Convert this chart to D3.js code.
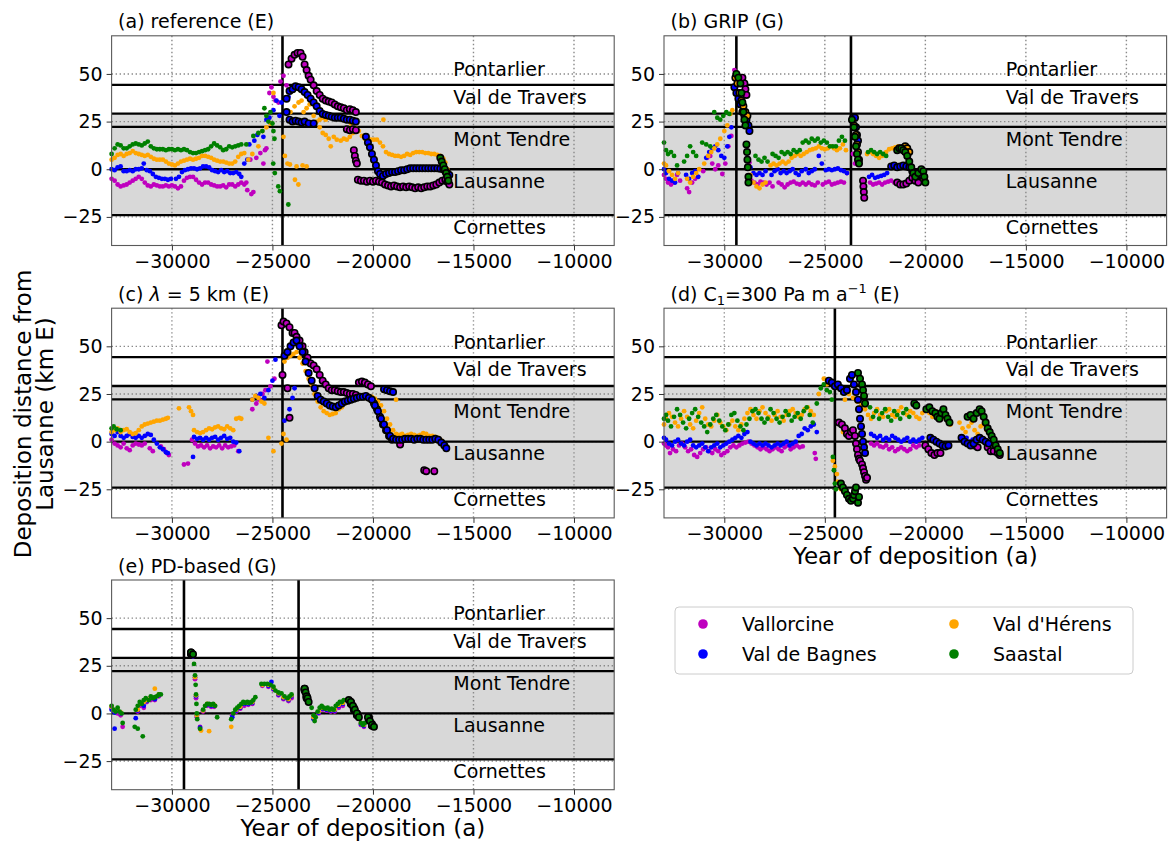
<!DOCTYPE html>
<html><head><meta charset="utf-8">
<script src="https://cdn.jsdelivr.net/npm/d3@7"></script>
<style>body{margin:0;background:#fff}svg{display:block}text{font-family:"DejaVu Sans",sans-serif;fill:#000}</style>
</head><body><svg id="chart" width="1171" height="841"></svg>
<script>
// ---------------- data ----------------
const seriesNames = ["Vallorcine","Val de Bagnes","Val d'Hérens","Saastal"];
const xTicks = [-30000,-25000,-20000,-15000,-10000];
const yTicks = [-25,0,25,50];
const xDomain = [-33000,-8000];
const yDomain = [-40,70];
const boundaryLines = [44.3,29.2,22.2,0,-24.1];
const bandRange = [-24.1,28.8];
const siteNames = ["Pontarlier","Val de Travers","Mont Tendre","Lausanne","Cornettes"];
const siteLabelY = [48.8,34.3,12.4,-9.8,-33.9];
const siteLabelX = -16000;
const panelTitles = ["(a) reference (E)","(b) GRIP (G)","(c) λ = 5 km (E)","(d) C1=300 Pa m a−1 (E)","(e) PD-based (G)"];
const panelEventYears = [[-24500],[-29400,-23700],[-24500],[-24500],[-29400,-23700]];
const xLabel = "Year of deposition (a)";
const yLabelLines = ["Deposition distance from","Lausanne (km E)"];

// (a) reference
const refVallorcine = [[-33000,-5],[-32850,-6],[-32700,-8],[-32550,-9],[-32400,-8.5],[-32250,-8],[-32100,-7],[-31950,-6],[-31800,-5],[-31650,-4],[-31500,-5],[-31350,-7],[-31200,-8.5],[-31050,-9],[-30900,-8],[-30750,-8.5],[-30600,-9],[-30450,-9],[-30300,-8.5],[-30150,-9],[-30000,-8.5],[-29850,-9],[-29700,-10],[-29550,-9],[-29400,-6],[-29250,-4.5],[-29100,-4],[-28950,-4],[-28800,-5.5],[-28650,-7],[-28500,-8],[-28350,-7],[-28200,-7],[-28050,-8],[-27900,-8.5],[-27750,-9],[-27600,-9],[-27450,-8.5],[-27300,-9.5],[-27150,-8],[-27000,-8],[-26850,-9],[-26700,-8],[-26550,-7],[-26400,-8],[-26250,-11],[-26050,-13],[-26300,-7],[-25950,-12],[-26100,5],[-25800,6],[-25600,8.5],[-25450,3],[-25370,10],[-25300,11],[-25150,40],[-25050,43],[-24950,38],[-24850,36],[-24700,35],[-24600,46],[-24450,49],[-24350,37],[-24300,44]];
const refVallorcineEdge = [[-24200,55],[-24050,58],[-23900,60],[-23750,61],[-23600,61],[-23500,59],[-23400,55],[-23300,52],[-23200,49],[-23100,47],[-22950,44],[-22800,41],[-22650,39],[-22500,37],[-22350,36],[-22200,35.5],[-22050,35],[-21900,34],[-21750,33],[-21600,32.5],[-21450,32],[-21300,31],[-21150,31.5],[-21000,31],[-20850,30],[-21300,21],[-21150,20.5],[-21000,21],[-20850,20.5],[-20950,10],[-20900,7],[-20850,4.5],[-20800,3],[-20750,-5.5],[-20600,-6],[-20450,-6],[-20300,-6.5],[-20150,-6],[-20000,-6.5],[-19850,-6],[-19700,-6.5],[-19550,-7],[-19400,-8],[-19250,-8.5],[-19100,-9],[-18950,-8.5],[-18800,-9],[-18650,-9.5],[-18500,-9],[-18350,-9.5],[-18200,-9],[-18050,-9.5],[-17900,-10],[-17750,-9.5],[-17600,-10],[-17450,-9.5],[-17300,-9],[-17150,-9],[-17000,-8.5],[-16850,-8],[-16700,-7],[-16550,-6],[-16400,-5.5],[-16300,-6.5],[-16200,-8]];
const refBagnes = [[-33000,0],[-32850,-0.5],[-32700,1],[-32550,1.5],[-32400,-1],[-32250,-1],[-32100,-0.5],[-31950,-1],[-31800,0],[-31650,0],[-31500,0.5],[-31400,3],[-31250,-0.5],[-31100,-1],[-30950,-2.5],[-30800,-4],[-30650,-4.5],[-30500,-5],[-30350,-5],[-30200,-5.5],[-30050,-5],[-29800,-5],[-29650,-4],[-29500,-1.5],[-29350,-0.5],[-29200,0],[-29050,0.5],[-28900,0.5],[-28750,0],[-28600,0.5],[-28450,1.5],[-28300,1.5],[-28150,1],[-28000,-0.5],[-27850,-1],[-27700,-1.5],[-27550,-0.5],[-27400,-1.5],[-27250,-1],[-27100,-2],[-26950,-2],[-26800,-1.5],[-26650,-2.5],[-26550,-4],[-26400,3],[-26250,5],[-26150,13],[-25900,15],[-25750,18],[-25450,17],[-25300,26],[-25150,27],[-24950,31],[-24800,36],[-24650,28],[-24550,35],[-24200,38]];
const refBagnesEdge = [[-24300,37],[-24150,41],[-24000,42],[-23850,43.5],[-23700,43],[-23550,42],[-23400,40.5],[-23250,39],[-23100,37],[-22950,35],[-22800,33],[-22650,30.5],[-22500,29],[-22350,28.5],[-22200,28],[-22050,27.5],[-21900,27],[-21750,27],[-21600,27],[-21450,26.5],[-21300,26],[-21150,26],[-21000,25.5],[-20850,25],[-24300,30],[-24150,26],[-24000,25],[-23850,25.5],[-23700,25],[-23550,24.5],[-23400,25],[-23200,24],[-22950,24],[-20350,17],[-20250,14],[-20150,11.5],[-20050,8],[-19950,5],[-19850,2],[-19750,-1],[-19650,-2.5],[-19500,-3.5],[-19350,-2.5],[-19200,-2],[-19050,-1.5],[-18900,-1.5],[-18750,-1],[-18600,-0.5],[-18450,-0.5],[-18300,0],[-18150,0.5],[-18000,0.5],[-17850,0.5],[-17700,0.5],[-17550,0.5],[-17400,0.5],[-17250,0.5],[-17100,0.5],[-16950,0.5],[-16800,0.5],[-16650,0.3],[-16500,0],[-16400,-1],[-16300,-2],[-16200,-3]];
const refHerens = [[-33000,5],[-32850,6],[-32700,7.5],[-32550,8],[-32400,7],[-32250,8],[-32100,8.5],[-31950,9.5],[-31800,8.5],[-31650,8],[-31500,7.5],[-31350,7],[-31200,7.5],[-31050,6.5],[-30900,5.5],[-30750,5],[-30600,5],[-30450,5],[-30300,4],[-30150,3],[-30000,2.5],[-29850,2],[-29700,3],[-29550,4],[-29400,4.5],[-29250,5],[-29100,5.5],[-28950,5],[-28800,5.5],[-28650,6],[-28500,7],[-28350,7],[-28200,6.5],[-28050,6],[-27900,5],[-27750,4.5],[-27600,4],[-27450,4],[-27300,3.5],[-27150,3],[-27000,3],[-26850,4],[-26700,6.5],[-26550,8],[-26400,8.5],[-26200,5],[-26000,8],[-25700,12],[-25500,20],[-25300,22],[-25100,24],[-24950,40],[-24450,17],[-24380,7],[-24250,3],[-24130,2.5],[-23880,-5.5],[-23710,-8],[-23800,1.5],[-23500,2],[-23300,1.5],[-24100,30],[-23900,33],[-23700,35],[-23550,36],[-23450,30],[-23300,32],[-23150,34],[-22950,28],[-22800,25],[-22650,26],[-22500,27],[-22350,26],[-22650,22],[-22500,19],[-22350,18],[-22200,16],[-22100,12],[-21950,17],[-21800,15.5],[-21600,15],[-21450,16],[-21300,15.5],[-21150,17],[-21000,19],[-21100,24],[-20950,26],[-20850,21.5],[-20700,20],[-20550,17.5],[-20400,16],[-20250,15.5],[-20100,15.5],[-19950,15.5],[-19800,15.5],[-19480,26],[-19650,14],[-19500,12],[-19350,9],[-19200,8],[-19050,7.5],[-18900,7],[-18750,7],[-18600,6.5],[-18450,7],[-18300,8],[-18150,7.5],[-18000,8.5],[-17850,9],[-17700,9],[-17550,9],[-17400,8.5],[-17250,8.5],[-17100,8],[-16950,8],[-16800,7.5],[-16650,7],[-16500,5.5],[-16400,3.5],[-16300,0],[-16250,-5]];
const refSaastal = [[-33000,8],[-32850,11],[-32700,13],[-32550,12.5],[-32400,11],[-32250,11],[-32100,12],[-31950,13],[-31800,13.5],[-31650,13],[-31500,12.5],[-31350,13.5],[-31200,14.5],[-31050,12],[-30900,11],[-30750,10.5],[-30600,10.5],[-30450,10.5],[-30300,10],[-30150,10.5],[-30000,10.5],[-29850,10],[-29700,10.5],[-29550,10],[-29400,10.5],[-29250,10],[-29100,9],[-28950,8.5],[-28800,8.5],[-28650,9],[-28500,9.5],[-28350,10],[-28200,10.5],[-28050,12],[-27900,13.5],[-27750,12.5],[-27600,11.5],[-27450,10],[-27300,10.5],[-27150,12],[-27000,11.5],[-26850,12],[-26700,12.5],[-26550,13],[-26300,13],[-25950,17.5],[-25700,19],[-25500,20],[-25400,32],[-25300,28],[-25200,25],[-25100,30],[-25000,24],[-24950,20],[-24900,16],[-24960,3],[-24880,-2],[-24710,-9],[-24630,-11.5],[-24210,-18.5]];
const refSaastalEdge = [[-16650,6],[-16580,4],[-16500,2],[-16430,0],[-16360,-2],[-16300,-4],[-16250,-6]];

// (b) GRIP
const gripVallorcine = [[-33000,-3],[-32900,-5],[-32800,-7],[-32650,-8],[-32500,-7],[-32350,-3],[-32200,-6],[-31850,-10],[-31750,-12],[-31600,-7],[-31450,-5],[-31300,-4],[-31050,-1],[-30850,6],[-30700,7],[-30600,3],[-30450,0],[-30300,2],[-30100,-2.5],[-29950,3],[-29800,12],[-29650,17.5],[-29500,52],[-28750,3.5],[-28650,-6],[-28500,-7],[-28350,-8],[-28200,-6.5],[-28050,-7],[-27900,-8],[-27750,-7],[-27600,-9],[-27300,-7],[-27150,-8],[-27000,-9.5],[-26850,-8],[-26700,-7],[-26550,-6.5],[-26400,-7.5],[-26250,-8],[-26100,-7],[-25950,-8],[-25800,-7],[-25650,-8],[-25500,-8.5],[-25350,-7],[-25100,-8],[-24950,-7],[-24800,-6.5],[-24650,-8],[-24500,-7.5],[-24350,-7],[-24200,-6.5],[-24050,-7],[-23900,-2],[-23600,8],[-23500,3],[-22750,-7],[-22600,-8],[-22450,-7.5],[-22300,-7],[-22150,-8],[-22000,-7],[-21850,-6.5],[-21700,-6],[-21550,-7]];
const gripVallorcineEdge = [[-29200,47],[-29100,48],[-29000,45],[-28950,42],[-28900,39],[-23100,-6],[-23080,-9],[-23060,-12],[-23040,-15],[-21400,-7],[-21250,-8],[-21100,-8],[-20950,-7.5],[-20800,-6],[-20650,-4.5],[-20500,-6],[-20350,-7]];
const gripBagnes = [[-33000,0],[-32900,-2],[-32750,-5],[-32600,-6],[-32450,-7],[-32300,-2],[-31900,-3],[-31750,-5],[-31600,-2],[-31450,-1],[-31300,-4],[-30900,6],[-30750,9],[-30600,11],[-30450,12],[-30300,10],[-30150,7],[-30000,6],[-29850,12],[-29750,17],[-29650,22],[-28850,6],[-28700,1],[-28550,-2],[-28400,-3],[-28250,-2],[-28100,-3],[-27950,-1],[-27650,-3],[-27500,-1],[-27350,0],[-27200,-2],[-27050,-1],[-26900,-2],[-26750,-1],[-26600,0],[-26450,-2],[-26300,-3],[-26150,-1],[-25950,0],[-25800,-2],[-25650,-1],[-25500,0],[-25300,7],[-25150,3],[-24950,-0.5],[-24800,0],[-24650,-0.5],[-24500,0],[-24350,0.5],[-24200,-0.5],[-24050,-1],[-23900,-2],[-22800,-4],[-22650,-3],[-22500,-4.5],[-22350,-4],[-22200,-3.5],[-22050,-3],[-21900,-2]];
const gripBagnesEdge = [[-29500,43],[-29400,40],[-29300,37],[-29200,34],[-29100,30],[-29000,28],[-28900,26],[-28800,23],[-28750,20],[-23600,27],[-23500,27],[-23450,22],[-23400,18],[-23350,15],[-21700,1.5],[-21550,2],[-21400,1],[-21250,1.5],[-21100,2],[-20950,1.5],[-20800,1],[-20650,-1],[-20500,-3],[-20350,-3.5],[-20200,-3]];
const gripHerens = [[-33000,3],[-32900,2],[-32750,-1],[-32600,-3],[-32450,-5],[-32300,-2],[-31850,-5],[-31700,-7],[-31550,-4],[-31400,-2],[-31250,0],[-31000,3],[-30800,7],[-30650,9],[-30500,11],[-30350,13],[-30200,16],[-30000,20],[-29850,23],[-29700,29],[-29600,31],[-28700,-3],[-28550,-7],[-28400,-9],[-28250,-10],[-28100,-8],[-27950,-7],[-27700,2],[-27550,3],[-27400,2],[-27250,3],[-27100,4],[-26950,3],[-26800,4],[-26650,6],[-26500,7],[-26350,8],[-26200,7],[-26050,8],[-25900,9],[-25750,10],[-25600,10.5],[-25450,11],[-25300,12],[-25150,11],[-25000,10.5],[-24850,11],[-24700,12],[-24550,11],[-24400,10],[-24250,11],[-24100,13],[-23950,10],[-22900,8],[-22750,9],[-22600,8],[-22450,7],[-22300,6],[-22150,7],[-21950,9],[-21800,10.5],[-21650,11],[-21500,11.5],[-21350,12],[-20400,-4],[-20250,-6],[-20100,-7],[-20000,-5]];
const gripHerensEdge = [[-29450,48],[-29350,45],[-29250,40],[-29150,36],[-29050,33],[-28950,30],[-28850,28],[-23550,23],[-23450,18],[-23400,13],[-23350,9],[-23300,5],[-21100,11],[-21000,12],[-20900,11],[-20800,9]];
const gripSaastal = [[-33000,14],[-32900,10],[-32800,8],[-32650,9],[-32500,7],[-32350,2],[-32000,4],[-31850,7],[-31700,12],[-31550,9],[-31400,7],[-31100,14],[-30900,13],[-30700,12],[-30500,30],[-30350,27],[-30200,26],[-30050,28],[-29900,30],[-29750,29],[-28450,7],[-28300,5],[-28150,4],[-28000,6],[-27850,4],[-27600,8],[-27450,7],[-27300,6],[-27150,9],[-27000,8],[-26850,9],[-26700,8],[-26550,10],[-26400,9],[-26250,10],[-26100,14],[-25950,15],[-25800,14],[-25650,16],[-25500,15],[-25350,16],[-25200,14],[-25050,15],[-24900,14],[-24750,12],[-24600,12],[-24450,12],[-24300,15],[-24150,17],[-24000,15],[-22850,9],[-22700,10],[-22550,9],[-22400,8],[-22250,9],[-22100,8],[-21950,7]];
const gripSaastalEdge = [[-29400,50],[-29300,48],[-29200,45],[-29150,40],[-29100,35],[-29050,30],[-29000,26],[-28950,23],[-28900,13],[-28870,9],[-28850,5],[-28830,1],[-28800,-4],[-28800,-7],[-23650,26],[-23550,22],[-23500,17],[-23450,12],[-23400,8],[-23350,5],[-23300,3],[-21400,10],[-21300,11],[-21200,11],[-21100,10],[-21000,9],[-20900,7],[-20800,4],[-20700,1],[-20600,-2],[-20500,-4],[-20350,-2],[-20200,0],[-20100,-1],[-20050,-4],[-20000,-7]];

// (c) lambda = 5 km
const lamVallorcine = [[-33000,1],[-32850,-1],[-32700,-2],[-32550,-3],[-32400,-1],[-32250,-3.5],[-32100,-4.5],[-31950,-2],[-31800,-1],[-31650,-1.5],[-31500,-2],[-31350,-1],[-31100,-3.5],[-30950,-5],[-30550,-2.5],[-30400,-4],[-30250,-6],[-30150,-7],[-29400,-12],[-29200,-11.5],[-29000,1],[-28850,-1],[-28700,-2.5],[-28550,-2],[-28400,-3],[-28250,-2],[-28100,-3.5],[-27950,-2.5],[-27800,-3],[-27650,-2],[-27500,-3.5],[-27350,-2],[-27200,-3],[-27050,-2.5],[-26900,-2],[-26700,-5],[-26000,17],[-25800,20],[-25650,22],[-25500,25],[-25350,27],[-25250,42],[-25100,29],[-24900,33]];
const lamVallorcineEdge = [[-24500,35],[-24250,28],[-24150,12.5],[-24550,61],[-24450,63],[-24300,62],[-24150,60],[-24000,57],[-23900,57],[-23800,55],[-23650,53],[-23500,50],[-23400,47],[-23250,44],[-23100,41],[-22950,40],[-22800,38],[-22650,35],[-22500,32],[-22350,30],[-22200,28],[-22050,27],[-21900,27],[-21750,26.5],[-21600,26],[-21450,26],[-21300,25.5],[-21150,25],[-21000,25],[-20850,24.5],[-20700,31],[-20550,31.5],[-20400,31],[-20250,30],[-20100,29],[-19950,20],[-19800,17],[-19650,13],[-19500,9],[-19350,6],[-19200,3],[-19050,1],[-18650,-1.5],[-17450,-15],[-17350,-15.5],[-16950,-15.5]];
const lamBagnes = [[-33000,4],[-32850,3],[-32700,5],[-32550,3],[-32400,2],[-32250,3],[-32100,4],[-31950,2.5],[-31800,2],[-31650,3],[-31500,2],[-31350,3],[-31200,4],[-31050,3.5],[-30900,1],[-30750,-1],[-30600,-3],[-30450,-4],[-30300,-5.5],[-30200,-6],[-28950,-8],[-28900,2.5],[-28750,1.5],[-28600,2],[-28450,1],[-28300,2],[-28150,1],[-28000,2],[-27850,2.5],[-27700,1],[-27550,2],[-27400,3],[-27250,1.5],[-27100,2],[-26950,0],[-26800,-0.5],[-26650,-5],[-26000,22],[-25800,24],[-25600,25],[-25400,23],[-25200,27],[-25000,32],[-24850,43],[-24400,11],[-24150,17],[-24000,23],[-23900,28]];
const lamBagnesEdge = [[-24400,45],[-24250,47],[-24100,50],[-23950,52],[-23800,53],[-23650,50],[-23500,47],[-23350,42],[-23200,36],[-23050,32],[-22900,28],[-22750,24],[-22600,22],[-22450,21],[-22300,20],[-22150,19],[-22000,18.5],[-21850,18],[-21700,19],[-21550,20],[-21400,21],[-21250,21.5],[-21100,22],[-20950,22.5],[-20800,23],[-20650,23.5],[-20500,23.5],[-20350,24],[-20200,23],[-20050,22],[-19450,27.5],[-19300,27],[-19150,26.5],[-19000,26],[-19900,19],[-19750,16],[-19600,12],[-19450,9],[-19300,6],[-19150,3],[-19000,1.5],[-18850,1],[-18700,1],[-18550,1],[-18400,1.5],[-18250,1.5],[-18100,1.5],[-17950,1],[-17800,1.5],[-17650,1.5],[-17500,1],[-17350,1],[-17200,1],[-17050,1],[-16900,1.5],[-16750,1],[-16600,-0.5],[-16450,-2],[-16350,-3.5]];
const lamHerens = [[-33000,5],[-32850,6],[-32700,7],[-32550,5],[-32400,6],[-32250,6.5],[-32100,5],[-31950,4],[-31800,4.5],[-31650,6],[-31500,8],[-31350,9],[-31200,9.5],[-31050,10],[-30900,10.5],[-30750,11],[-30600,11],[-30450,11.5],[-30300,12],[-30200,12.5],[-29650,17.5],[-29150,18],[-29050,16],[-28950,14],[-28900,6],[-28750,5],[-28600,4.5],[-28450,5],[-28300,6],[-28150,7],[-28000,6.5],[-27850,7.5],[-27700,8],[-27550,7],[-27400,6.5],[-27250,8],[-27100,7],[-26950,6],[-26800,12],[-26650,12.5],[-26550,12],[-26000,22],[-25850,24],[-25700,23],[-25550,21],[-25400,20],[-25200,2],[-24950,-5],[-24550,-1],[-24450,4],[-24300,1],[-24400,42],[-24250,44],[-24100,45],[-23950,46],[-23800,47],[-23650,44],[-23500,41],[-23350,37],[-23200,33],[-23050,30],[-22900,25],[-22750,21],[-22600,18],[-22450,16],[-22300,15],[-22150,14],[-22000,14.5],[-21850,15],[-21700,17],[-21550,18],[-21400,20],[-21250,21],[-21100,21.5],[-20950,22],[-20800,22.5],[-20650,23],[-20500,23.5],[-20350,23],[-20200,24],[-20050,23.5],[-19900,22.5],[-18850,22],[-19750,21],[-19600,19],[-19450,16],[-19300,12],[-19150,9],[-19000,6],[-18850,4],[-18700,3.5],[-18550,4],[-18400,3],[-18250,3.5],[-18100,4],[-17950,3.5],[-17800,3],[-17650,3.5],[-17500,4.5],[-17350,4],[-17200,3],[-17050,3],[-16900,2.5],[-16750,2],[-16600,0.5]];
const lamSaastal = [[-33000,7],[-32900,8],[-32750,6.5],[-32550,6]];

// (d) C1 = 300 Pa m a-1
const c1Vallorcine = [[-33000,-1],[-32900,-2],[-32800,-3],[-32700,-6],[-32550,-4],[-32400,-5],[-32250,-2],[-32100,-1],[-31950,-3],[-31800,-5],[-31650,-4],[-31500,-7],[-31350,-8],[-31200,-6],[-31050,-4],[-30900,-3],[-30750,-5],[-30600,-6],[-30450,-4],[-30300,-5],[-30150,-7],[-30000,-6],[-29850,-5],[-29700,-3],[-29550,-2],[-29400,-3],[-29250,-2],[-29100,-1],[-28950,-0.5],[-28800,0],[-28650,-1],[-28500,-2],[-28350,-3],[-28200,-4],[-28050,-3],[-27900,-4],[-27750,-5],[-27600,-4],[-27450,-3],[-27300,-4],[-27150,-5],[-27000,-3],[-26850,-2],[-26700,-4],[-26550,-3],[-26400,-2],[-26250,-3],[-26100,-2.5],[-25500,-6],[-25450,-9],[-22700,-1],[-22550,-2],[-22400,-1],[-22250,-2.5],[-22100,-3],[-21950,-2],[-21800,-4],[-21650,-3],[-21500,-5],[-21350,-4],[-21200,-3],[-21050,-4],[-20900,-5],[-20750,-4],[-20600,-2],[-20450,-3],[-20300,-2],[-17900,-1],[-17750,-2],[-17600,-2.5],[-17450,-3]];
const c1VallorcineEdge = [[-24300,10],[-24150,9],[-24000,7],[-23900,4],[-23800,3],[-23700,5],[-23600,6],[-23500,3],[-23450,-1],[-23400,-4],[-23350,-7],[-23300,-9],[-23250,-10],[-23150,-12],[-23100,-14],[-23050,-16],[-23000,-18],[-22950,-20],[-22900,-19],[-20000,-2],[-19850,-4],[-19700,-6],[-19550,-7],[-19400,-6],[-19250,-6],[-17700,-1],[-17550,-2],[-17400,-3],[-16900,-3],[-16750,-5],[-16600,-5],[-16400,-6],[-16300,-7]];
const c1Bagnes = [[-33000,2],[-32900,1],[-32750,-1],[-32600,-2],[-32450,0],[-32300,1],[-32150,-1],[-32000,-2],[-31850,0],[-31700,1],[-31550,-2],[-31400,-3],[-31250,-2],[-31100,-1],[-30950,-3],[-30800,-5],[-30650,-3],[-30500,-2],[-30350,-1],[-30200,-3],[-30050,-2],[-29900,-1],[-29750,0],[-29600,1],[-29450,2],[-29300,3],[-29150,2],[-29000,4],[-28850,5],[-28700,0],[-28550,-1],[-28400,-2],[-28250,-1],[-28100,-2],[-27950,-1],[-27800,-2],[-27650,-3],[-27500,-2],[-27350,-1],[-27200,-2],[-27050,-1],[-26900,0],[-26750,-2],[-26600,-1],[-26450,0],[-26300,3],[-26150,4],[-26000,7],[-25850,6],[-25700,8],[-25550,9],[-25400,5],[-22700,4],[-22550,3],[-22400,2],[-22250,3],[-22100,1],[-21950,2],[-21800,1],[-21650,3],[-21500,2],[-21350,1],[-21200,0],[-21050,1],[-20900,2],[-20750,0],[-20600,1],[-20450,0],[-20300,1],[-20150,2],[-18100,1],[-17950,2],[-17800,0],[-17650,1]];
const c1BagnesEdge = [[-24800,32],[-24650,31],[-24500,29],[-24350,30],[-24200,28],[-24050,26],[-23900,27],[-23750,33],[-23650,35],[-23550,30],[-23450,26],[-23350,22],[-23300,17],[-23250,12],[-23200,8],[-23150,4],[-23100,0],[-23050,-3],[-23000,-6],[-19750,2],[-19600,1],[-19450,0],[-19300,-1],[-19150,-2],[-19000,-2.5],[-18850,-2],[-18200,2],[-18050,0],[-17900,-1],[-17750,-2],[-17600,-1],[-17450,1],[-17300,2],[-17150,1],[-17000,0],[-16850,-1]];
const c1Herens = [[-33000,9],[-32900,12],[-32750,15],[-32600,13],[-32450,10],[-32300,8],[-32150,12],[-32000,16],[-31850,13],[-31700,9],[-31550,7],[-31400,11],[-31250,15],[-31100,18],[-30950,12],[-30800,9],[-30650,8],[-30500,11],[-30350,14],[-30200,10],[-30050,8],[-29900,6],[-29750,9],[-29600,11],[-29450,8],[-29300,6],[-29150,9],[-29000,12],[-28850,15],[-28700,17],[-28550,14],[-28400,12],[-28250,16],[-28100,18],[-27950,15],[-27800,13],[-27650,11],[-27500,14],[-27350,16],[-27200,13],[-27050,11],[-26900,14],[-26750,16],[-26600,17],[-26450,15],[-26300,13],[-26150,14],[-26000,17],[-25850,18],[-25700,16],[-25550,14],[-25300,25],[-25050,33],[-24900,30],[-24600,-10],[-24500,-13],[-24400,-17],[-24350,-21],[-24200,-25],[-24100,5],[-24000,22],[-23800,25],[-23600,23],[-23400,21],[-23200,19],[-23000,17],[-22850,14],[-22700,12],[-22550,15],[-22400,17],[-22250,14],[-22100,13],[-21950,16],[-21800,17],[-21650,14],[-21500,13],[-21350,16],[-21200,18],[-21050,15],[-20900,14],[-20750,16],[-20600,15],[-20450,13],[-20300,12],[-20150,15],[-19950,17],[-19800,15],[-19650,13],[-19500,16],[-19350,14],[-19200,12],[-19050,15],[-18900,11],[-18750,9],[-18300,10],[-18150,7],[-18000,5],[-17850,8],[-17700,10],[-17550,6],[-17400,4],[-17250,8],[-17100,9],[-16950,6]];
const c1Saastal = [[-33000,12],[-32900,14],[-32800,11],[-32650,8],[-32500,13],[-32350,17],[-32200,14],[-32050,10],[-31900,7],[-31750,12],[-31600,15],[-31450,17],[-31300,13],[-31150,10],[-31000,8],[-30850,5],[-30700,9],[-30550,12],[-30400,14],[-30250,11],[-30100,8],[-29950,6],[-29800,9],[-29650,14],[-29500,15],[-29350,11],[-29200,8],[-29050,6],[-28900,9],[-28750,12],[-28600,16],[-28450,17],[-28300,15],[-28150,12],[-28000,10],[-27850,12],[-27700,17],[-27550,15],[-27400,12],[-27250,10],[-27100,13],[-26950,16],[-26800,14],[-26650,11],[-26500,13],[-26350,15],[-26200,12],[-26050,16],[-25900,18],[-25750,14],[-25600,10],[-25400,20],[-25200,28],[-25050,30],[-24900,27],[-24750,26],[-24650,22],[-24600,-8],[-24550,-15],[-24500,-22],[-24450,-25],[-22750,18],[-22600,13],[-22450,16],[-22300,12],[-22150,15],[-22000,17],[-21850,13],[-21700,11],[-21550,16],[-21400,14],[-21250,12],[-21100,15],[-20950,17],[-20800,13]];
const c1SaastalEdge = [[-24200,-22],[-24100,-24],[-24000,-26],[-23900,-28],[-23800,-30],[-23700,-31],[-23600,-30],[-23550,-28],[-23500,-26],[-23450,-24],[-23350,-32],[-23300,-29],[-23350,36],[-23250,33],[-23150,30],[-23100,27],[-23050,24],[-23000,20],[-20550,20],[-20450,19],[-19950,17],[-19800,18],[-19650,16],[-19500,15],[-19400,13],[-19300,12],[-19200,15],[-19100,17],[-19000,14],[-18900,12],[-18800,10],[-17900,13],[-17750,14],[-17600,12],[-17450,15],[-17300,17],[-17200,16],[-17100,13],[-17000,10],[-16900,7],[-16800,5],[-16700,3],[-16600,1],[-16500,-2],[-16400,-4],[-16300,-6]];

// (e) PD-based
const pdVallorcine = [[-33000,3],[-32850,1],[-32700,0],[-32550,-1],[-32450,-7],[-31700,1],[-31550,4],[-31400,3],[-31250,6],[-31050,7],[-30850,7],[-30650,9],[-28950,30],[-28850,18],[-28800,8],[-28760,-2],[-28600,-7],[-28450,1],[-28250,4],[-28050,3.5],[-27900,3.5],[-27000,-1],[-26800,1],[-26600,2.5],[-26400,4],[-26200,4.5],[-26000,5],[-25500,14.5],[-25200,14],[-24950,12.5],[-24700,9.5],[-24450,7.5],[-24200,6.5],[-24050,8],[-22950,-2],[-22700,0],[-22500,2],[-22300,1.5],[-22100,1],[-21900,1],[-21700,3],[-21500,4],[-20600,-6],[-20450,-7]];
const pdVallorcineEdge = [[-29050,31],[-23400,12],[-23300,8],[-21100,5],[-20950,2],[-20800,-1],[-20200,-3],[-20050,-6.5]];
const pdBagnes = [[-33000,2],[-32850,0.5],[-32850,-8],[-32700,1.5],[-32550,0],[-31800,-2.5],[-31700,1.5],[-31550,5],[-31400,4],[-31250,6.5],[-31050,8],[-30850,7.5],[-30650,9.5],[-28950,30],[-28850,19],[-28800,9],[-28760,-1],[-28600,-7.5],[-28450,1.5],[-28250,4.5],[-28050,4],[-27900,4],[-27000,-2],[-26800,1.5],[-26600,3],[-26400,5],[-26200,5],[-26000,5.5],[-25500,15],[-25050,16.5],[-25200,14.5],[-24950,13],[-24700,10],[-24450,8],[-24200,7],[-24050,9],[-22950,-3],[-22700,0.5],[-22500,2.5],[-22300,2],[-22100,1.5],[-21900,1.5],[-21700,4],[-21500,5],[-20600,-5.5],[-20450,-6.5]];
const pdBagnesEdge = [[-29050,31.5],[-23400,12.5],[-23300,8.5],[-21100,5.5],[-20950,2.5],[-20800,-0.5],[-20200,-2.5],[-20050,-6]];
const pdHerens = [[-33000,3.5],[-32850,1.5],[-32700,2],[-32550,0.5],[-31700,2],[-31550,5],[-31400,6],[-31250,7],[-30850,13],[-31050,8.5],[-30650,10],[-28950,31],[-28850,19],[-28800,9.5],[-28760,-1],[-28550,-9],[-28150,-9.3],[-28450,1.5],[-28250,5],[-28050,4.5],[-27900,4.5],[-27050,-7],[-26800,2],[-26600,3.5],[-26400,5.5],[-26200,5.5],[-26000,6],[-25500,15],[-25200,15],[-24950,13.5],[-24700,10.5],[-24450,8.5],[-24200,7.5],[-24050,9.5],[-22950,-2],[-22700,1],[-22500,3],[-22300,2.5],[-22100,2],[-21900,2],[-21700,4.5],[-21500,5.5],[-20600,-5],[-20450,-6]];
const pdHerensEdge = [[-29050,32],[-23400,13],[-23300,9],[-21100,6],[-20950,3],[-20800,0],[-20200,-2],[-20050,-5.5]];
const pdSaastal = [[-33000,4],[-32900,2],[-32800,1],[-32700,3],[-32600,1],[-32500,0],[-32450,-5],[-31850,-7],[-31700,-8],[-31450,-12],[-31800,2],[-31700,4],[-31600,6],[-31500,5],[-31400,7],[-31300,8],[-31150,7],[-31050,9],[-30950,8],[-30850,8.5],[-30750,9],[-30650,10],[-30550,10],[-29000,31],[-28900,26],[-28850,20],[-28820,15],[-28800,10],[-28780,5],[-28760,0],[-28740,-3],[-28600,-8],[-28450,2],[-28350,4],[-28250,5],[-28150,5],[-28050,4.5],[-27950,5],[-27850,4],[-27750,-2],[-27050,-3],[-26950,0],[-26850,2],[-26750,3],[-26650,4],[-26550,5],[-26450,6],[-26350,5.5],[-26250,6],[-26150,5.5],[-26050,6],[-25950,7],[-25850,8.5],[-25550,15.5],[-25400,15.5],[-25250,15.5],[-25100,15],[-24950,14],[-24850,12],[-24700,11],[-24550,10.5],[-24400,9],[-24250,8],[-24150,9],[-24050,10],[-23050,3],[-22950,-1],[-22900,-4],[-22850,-2],[-22750,1],[-22650,3],[-22550,4],[-22450,3],[-22350,2.5],[-22250,3],[-22150,2],[-22050,2.5],[-21950,2],[-21850,4],[-21750,5],[-21650,6],[-21550,6],[-21450,7],[-20600,-5],[-20500,-6],[-20400,-5]];
const pdSaastalEdge = [[-29050,32],[-28950,31],[-23400,13],[-23350,11],[-23300,9],[-23250,8],[-23200,6],[-21200,7],[-21100,6],[-21000,4],[-20900,2],[-20800,0],[-20700,-2],[-20250,-2],[-20150,-4],[-20050,-6],[-19950,-7]];

const panelSeries = [
  [[refVallorcine,refVallorcineEdge],[refBagnes,refBagnesEdge],[refHerens,[]],[refSaastal,refSaastalEdge]],
  [[gripVallorcine,gripVallorcineEdge],[gripBagnes,gripBagnesEdge],[gripHerens,gripHerensEdge],[gripSaastal,gripSaastalEdge]],
  [[lamVallorcine,lamVallorcineEdge],[lamBagnes,lamBagnesEdge],[lamHerens,[]],[lamSaastal,[]]],
  [[c1Vallorcine,c1VallorcineEdge],[c1Bagnes,c1BagnesEdge],[c1Herens,[]],[c1Saastal,c1SaastalEdge]],
  [[pdVallorcine,pdVallorcineEdge],[pdBagnes,pdBagnesEdge],[pdHerens,pdHerensEdge],[pdSaastal,pdSaastalEdge]]
];

// ---------------- drawing ----------------
const colors = ["#bf00bf","#0000ff","#ffa500","#008000"];
const W = 502.6, H = 209.7;
const layout = [
  {x:111.6,y:35.8,xl:false},{x:664,y:35.8,xl:false},
  {x:111.6,y:308.2,xl:false},{x:664,y:308.2,xl:true},
  {x:111.6,y:580,xl:true}
];
const svg = d3.select("#chart");
const FS = 19;

layout.forEach((L,i)=>{
  const g = svg.append("g").attr("transform",`translate(${L.x},${L.y})`);
  const x = d3.scaleLinear().domain(xDomain).range([0,W]);
  const y = d3.scaleLinear().domain(yDomain).range([H,0]);
  g.append("rect").attr("x",0).attr("width",W)
    .attr("y",y(bandRange[1])).attr("height",y(bandRange[0])-y(bandRange[1]))
    .attr("fill","#d8d8d8");
  g.selectAll(".gx").data(xTicks).join("line")
    .attr("x1",d=>x(d)).attr("x2",d=>x(d)).attr("y1",0).attr("y2",H)
    .attr("stroke","#8a8a8a").attr("stroke-width",1.4).attr("stroke-dasharray","1.4,2.6");
  g.selectAll(".gy").data(yTicks).join("line")
    .attr("y1",d=>y(d)).attr("y2",d=>y(d)).attr("x1",0).attr("x2",W)
    .attr("stroke","#8a8a8a").attr("stroke-width",1.4).attr("stroke-dasharray","1.4,2.6");
  g.selectAll(".bl").data(boundaryLines).join("line")
    .attr("y1",d=>y(d)).attr("y2",d=>y(d)).attr("x1",0).attr("x2",W)
    .attr("stroke","#000").attr("stroke-width",2.3);
  g.selectAll(".vl").data(panelEventYears[i]).join("line")
    .attr("x1",d=>x(d)).attr("x2",d=>x(d)).attr("y1",0).attr("y2",H)
    .attr("stroke","#000").attr("stroke-width",2.6);
  g.selectAll(".sl").data(siteNames).join("text")
    .attr("x",x(siteLabelX)).attr("y",(d,k)=>y(siteLabelY[k]))
    .attr("font-size",FS).text(d=>d);
  const ser = panelSeries[i];
  ser.forEach((s,k)=>{
    g.append("g").selectAll("circle").data(s[0]).join("circle")
      .attr("cx",d=>x(d[0])).attr("cy",d=>y(d[1])).attr("r",2.4).attr("fill",colors[k]);
  });
  ser.forEach((s,k)=>{
    g.append("g").selectAll("circle").data(s[1]).join("circle")
      .attr("cx",d=>x(d[0])).attr("cy",d=>y(d[1])).attr("r",3.2).attr("fill",colors[k])
      .attr("stroke","#000").attr("stroke-width",1.6);
  });
  g.append("rect").attr("width",W).attr("height",H).attr("fill","none").attr("stroke","#5a5a5a").attr("stroke-width",1.1);
  const ax = g.append("g").attr("transform",`translate(0,${H})`)
    .call(d3.axisBottom(x).tickValues(xTicks).tickSize(5).tickPadding(4).tickFormat(d3.format("d")));
  const ay = g.append("g")
    .call(d3.axisLeft(y).tickValues(yTicks).tickSize(5).tickPadding(4).tickFormat(d3.format("d")));
  [ax,ay].forEach(a=>{
    a.select(".domain").remove();
    a.selectAll("line").attr("stroke","#333");
    a.selectAll("text").attr("font-size",FS).attr("font-family","DejaVu Sans").attr("fill","#000");
  });
  const t = g.append("text").attr("x",6.5).attr("y",-7.5).attr("font-size",FS);
  if(i===2){
    t.append("tspan").text("(c) ");
    t.append("tspan").attr("font-style","italic").text("λ");
    t.append("tspan").text(" = 5 km (E)");
  } else if(i===3){
    t.append("tspan").text("(d) C");
    t.append("tspan").attr("font-size",13).attr("dy",4).text("1");
    t.append("tspan").attr("dy",-4).text("=300 Pa m a");
    t.append("tspan").attr("font-size",13).attr("dy",-8).text("−1");
    t.append("tspan").attr("dy",8).text(" (E)");
  } else {
    t.text(panelTitles[i]);
  }
  if(L.xl){
    g.append("text").attr("x",W/2).attr("y",H+46).attr("text-anchor","middle")
      .attr("font-size",23).text(xLabel);
  }
});

svg.append("text").attr("transform","translate(31,414) rotate(-90)").attr("text-anchor","middle")
  .attr("font-size",23).text(yLabelLines[0]);
svg.append("text").attr("transform","translate(53,414) rotate(-90)").attr("text-anchor","middle")
  .attr("font-size",23).text(yLabelLines[1]);

const lg = svg.append("g").attr("transform","translate(675,607)");
lg.append("rect").attr("width",458).attr("height",67).attr("rx",4).attr("fill","#fff").attr("stroke","#cccccc").attr("stroke-width",1);
const legPos = [[28,17],[28,47],[279,17],[279,47]];
seriesNames.forEach((n,k)=>{
  lg.append("circle").attr("cx",legPos[k][0]).attr("cy",legPos[k][1]).attr("r",4.8).attr("fill",colors[k]);
  lg.append("text").attr("x",legPos[k][0]+39).attr("y",legPos[k][1]+7).attr("font-size",FS).text(n);
});
</script>
</body></html>
